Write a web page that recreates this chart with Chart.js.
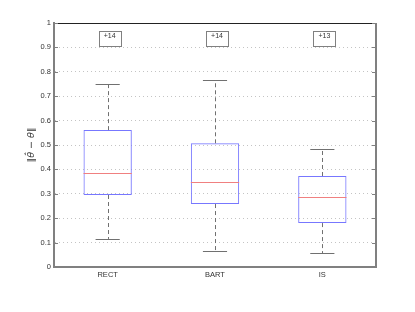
<!DOCTYPE html>
<html>
<head>
<meta charset="utf-8">
<script src="https://cdn.jsdelivr.net/npm/chart.js@4.4.1/dist/chart.umd.min.js"></script>
<style>
  html, body { margin: 0; padding: 0; background: #fff; }
  #wrap { width: 415px; height: 312px; }
</style>
</head>
<body>
<div id="wrap"><canvas id="grafik_box"></canvas></div>
<script>
'use strict';

// data
const categories = ['RECT', 'BART', 'IS'];
const q1Values = [0.295, 0.258, 0.180];
const q3Values = [0.561, 0.507, 0.373];
const medianValues = [0.384, 0.350, 0.286];
const lowWhisker = [0.115, 0.066, 0.056];
const highWhisker = [0.749, 0.765, 0.482];
const outlierLabels = ['+14', '+14', '+13'];
const yTicks = [0, 0.1, 0.2, 0.3, 0.4, 0.5, 0.6, 0.7, 0.8, 0.9, 1];

// colours
const boxColor = '#7777ff',
  medianColor = '#f08080',
  whiskerColor = '#707070',
  axisGrey = '#808080',
  gridGrey = '#c4c4c4',
  textColor = '#333333';

const fontFam = '"Liberation Sans", Arial, sans-serif';

// whiskers, medians, outlier counts, top/right frame
const boxExtras = {
  id: 'boxExtras',
  afterDatasetsDraw(chart) {
    const ctx = chart.ctx,
      x = chart.scales.x,
      y = chart.scales.y,
      area = chart.chartArea;
    const meta = chart.getDatasetMeta(0);

    ctx.save();
    categories.forEach(function (cat, i) {
      const cx = x.getPixelForValue(i);
      const halfBox = meta.data[i].width / 2;
      const halfCap = halfBox / 2;

      // whiskers
      ctx.strokeStyle = whiskerColor;
      ctx.lineWidth = 1;
      ctx.setLineDash([4, 3]);
      ctx.beginPath();
      ctx.moveTo(Math.round(cx) + 0.5, y.getPixelForValue(q3Values[i]));
      ctx.lineTo(Math.round(cx) + 0.5, y.getPixelForValue(highWhisker[i]));
      ctx.moveTo(Math.round(cx) + 0.5, y.getPixelForValue(q1Values[i]));
      ctx.lineTo(Math.round(cx) + 0.5, y.getPixelForValue(lowWhisker[i]));
      ctx.stroke();
      ctx.setLineDash([]);

      // caps
      ctx.beginPath();
      [highWhisker[i], lowWhisker[i]].forEach(function (v) {
        const py = Math.round(y.getPixelForValue(v)) + 0.5;
        ctx.moveTo(cx - halfCap, py);
        ctx.lineTo(cx + halfCap, py);
      });
      ctx.stroke();

      // median
      ctx.strokeStyle = medianColor;
      ctx.beginPath();
      const my = Math.round(y.getPixelForValue(medianValues[i])) + 0.5;
      ctx.moveTo(cx - halfBox, my);
      ctx.lineTo(cx + halfBox, my);
      ctx.stroke();

      // outlier count box
      const ty = y.getPixelForValue(0.945);
      const ax = cx + 2;
      ctx.font = '7px ' + fontFam;
      ctx.fillStyle = textColor;
      ctx.textAlign = 'center';
      ctx.textBaseline = 'middle';
      ctx.fillText(outlierLabels[i], ax, ty);
      ctx.strokeStyle = axisGrey;
      ctx.strokeRect(Math.round(ax - 11) + 0.5, Math.round(ty - 5) + 0.5, 22, 15);
    });

    // top line
    ctx.strokeStyle = '#222';
    ctx.lineWidth = 1;
    ctx.beginPath();
    ctx.moveTo(area.left, Math.round(area.top) + 0.5);
    ctx.lineTo(area.right, Math.round(area.top) + 0.5);
    ctx.stroke();

    // right axis with inward ticks
    ctx.strokeStyle = axisGrey;
    ctx.lineWidth = 2;
    ctx.beginPath();
    ctx.moveTo(area.right, area.top);
    ctx.lineTo(area.right, area.bottom + 1);
    ctx.stroke();
    ctx.lineWidth = 1;
    ctx.beginPath();
    yTicks.forEach(function (t) {
      const py = Math.round(y.getPixelForValue(t)) + 0.5;
      ctx.moveTo(area.right - 4, py);
      ctx.lineTo(area.right, py);
      ctx.moveTo(area.left, py);
      ctx.lineTo(area.left + 4, py);
    });
    ctx.stroke();
    ctx.restore();
  }
};

const boxChart = document.getElementById('grafik_box');
new Chart(boxChart, {
  type: 'bar',
  data: {
    labels: categories,
    datasets: [
      {
        data: categories.map(function (c, i) {
          return [q1Values[i], q3Values[i]];
        }),
        backgroundColor: 'transparent',
        borderColor: boxColor,
        borderWidth: 1,
        borderSkipped: false,
        categoryPercentage: 1,
        barPercentage: 0.45
      }
    ]
  },
  options: {
    responsive: true,
    maintainAspectRatio: false,
    animation: false,
    devicePixelRatio: 1,
    layout: {
      padding: { left: 0, right: 39, top: 23, bottom: 0 }
    },
    plugins: {
      legend: { display: false },
      tooltip: { enabled: false }
    },
    scales: {
      x: {
        afterFit: function (scale) { scale.height = 45; },
        grid: { display: false, drawTicks: false },
        border: { color: axisGrey, width: 2 },
        ticks: {
          color: textColor,
          padding: 3,
          font: { family: fontFam, size: 7.5 }
        }
      },
      y: {
        min: 0,
        max: 1,
        afterFit: function (scale) { scale.width = 54; },
        afterBuildTicks: function (scale) {
          scale.ticks = yTicks.map(function (v) { return { value: v }; });
        },
        grid: {
          color: gridGrey,
          drawTicks: false
        },
        border: { color: axisGrey, width: 2, dash: [1, 3] },
        ticks: {
          color: textColor,
          padding: 3,
          font: { family: fontFam, size: 7.5 },
          callback: function (v) { return String(Number(v.toFixed(1))); }
        },
        title: {
          display: true,
          text: '‖θ̂ − θ‖',
          color: textColor,
          padding: { top: 26, bottom: 0 },
          font: { family: '"DejaVu Sans", sans-serif', size: 9.5, style: 'italic' }
        }
      }
    }
  },
  plugins: [boxExtras]
});
</script>
</body>
</html>
